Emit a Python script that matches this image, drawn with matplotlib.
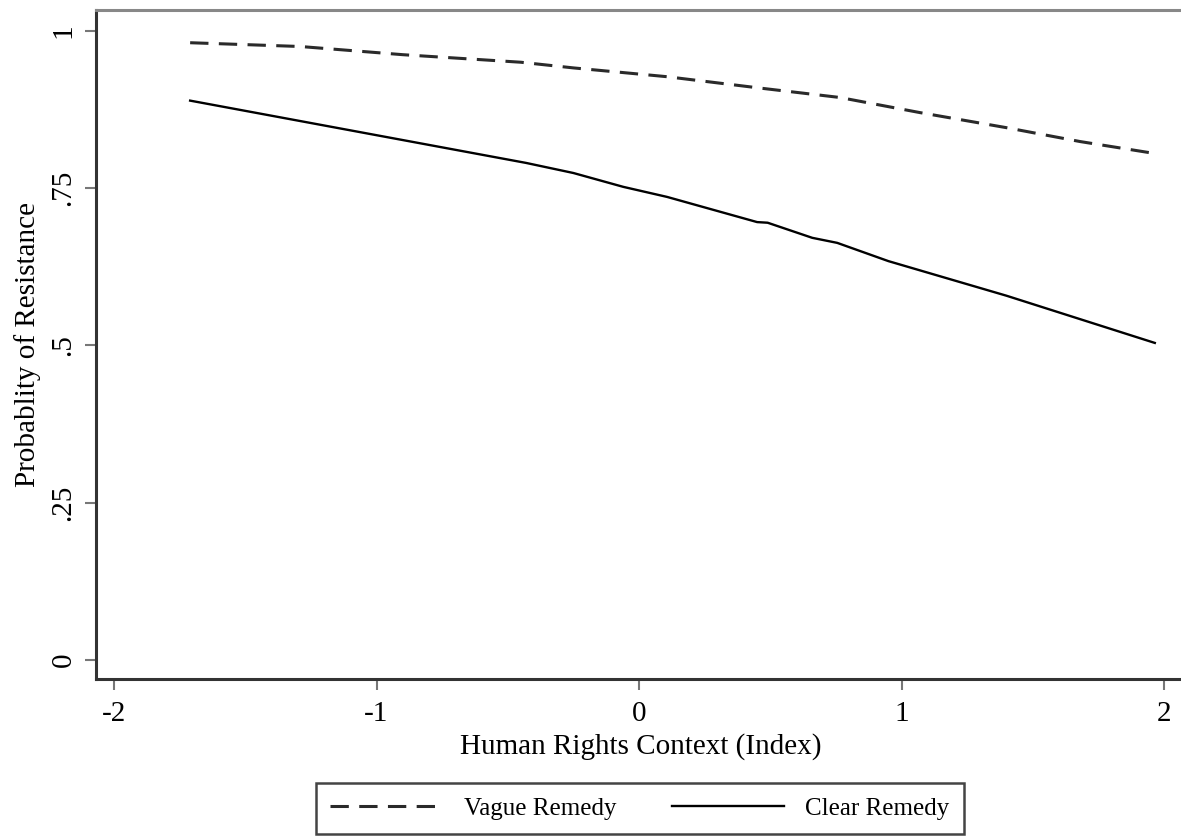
import numpy as np
import matplotlib
matplotlib.use("Agg")
import matplotlib.pyplot as plt

plt.rcParams['font.family'] = ['Liberation Serif', 'DejaVu Serif']

# values
vague_x = [-1.71, -1.29, -0.90, -0.45, -0.25, 0.107, 0.46, 0.765, 1.07, 1.40, 1.68, 1.965]
vague_y = [0.981, 0.975, 0.962, 0.950, 0.941, 0.927, 0.909, 0.894, 0.870, 0.846, 0.824, 0.805]

clear_x = [-1.71, -0.43, -0.25, -0.06, 0.107, 0.45, 0.49, 0.66, 0.755, 0.95, 1.40, 1.965]
clear_y = [0.889, 0.790, 0.774, 0.752, 0.736, 0.696, 0.695, 0.671, 0.663, 0.634, 0.579, 0.504]

xticks = [-2, -1, 0, 1, 2]
yticks = [0, 0.25, 0.5, 0.75, 1]
ytick_labels = ["0", ".25", ".5", ".75", "1"]

W, H = 1181, 839
fig = plt.figure(figsize=(W / 100, H / 100), dpi=100)
ax = fig.add_axes([96 / W, 1 - 679 / H, (1185 - 96) / W, 669 / H])

ax.plot(vague_x, vague_y, color='#2a2a2a', lw=2.2, dashes=(6, 3.4), label='Vague Remedy')
ax.plot(clear_x, clear_y, color='black', lw=1.7, label='Clear Remedy')

ax.set_xlim(-2.0686, 2.080)
ax.set_ylim(-0.030, 1.033)
ax.set_xticks(xticks)
ax.set_xticklabels([str(t) for t in xticks])
ax.set_yticks(yticks)
ax.set_yticklabels(ytick_labels, rotation=90, va='center')

ax.tick_params(axis='both', direction='out', length=8, width=1.5, color='#777777',
               labelsize=21, labelcolor='black')
ax.tick_params(axis='x', pad=8)
ax.tick_params(axis='y', pad=6)

for s in ['left', 'bottom']:
    ax.spines[s].set_color('#333333')
    ax.spines[s].set_linewidth(2.2)
ax.spines['top'].set_color('#888888')
ax.spines['top'].set_linewidth(2.2)
ax.spines['right'].set_visible(False)

ax.set_xlabel('Human Rights Context (Index)', fontsize=21, labelpad=4)
ax.set_ylabel('Probablity of Resistance', fontsize=21, labelpad=7)

leg = fig.legend(loc='upper center', bbox_to_anchor=(640 / W, 1 - 783 / H), ncol=2,
                 fontsize=18, handlelength=4.5, handletextpad=0.85, columnspacing=2.2,
                 fancybox=False, framealpha=1, edgecolor='#444444', borderpad=0.56,
                 borderaxespad=0)
leg.get_frame().set_linewidth(1.8)

fig.savefig('out.png', dpi=100)
